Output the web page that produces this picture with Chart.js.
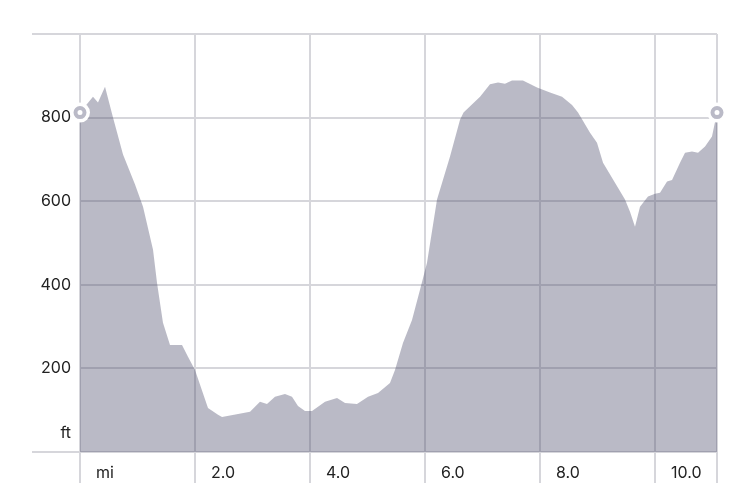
<!DOCTYPE html>
<html>
<head>
<meta charset="utf-8">
<style>
  html, body { margin: 0; padding: 0; background: #ffffff; }
  #wrap { width: 750px; height: 499px; }
</style>
<script src="https://cdn.jsdelivr.net/npm/chart.js@4/dist/chart.umd.min.js"></script>
</head>
<body>
<div id="wrap"><canvas id="c" width="750" height="499"></canvas></div>
<script>
// Distance along route (miles)
const distance = [
  0.000, 0.226, 0.313, 0.435, 0.574, 0.748, 0.957, 1.096, 1.270, 1.339,
  1.443, 1.565, 1.774, 1.878, 2.000, 2.226, 2.400, 2.470, 2.957, 3.130,
  3.252, 3.391, 3.565, 3.687, 3.791, 3.913, 4.035, 4.261, 4.470, 4.609,
  4.817, 5.009, 5.183, 5.391, 5.478, 5.617, 5.774, 5.913, 6.035, 6.209,
  6.435, 6.609, 6.670, 6.957, 7.130, 7.270, 7.391, 7.513, 7.704, 7.948,
  8.174, 8.383, 8.557, 8.661, 8.870, 8.991, 9.096, 9.304, 9.478, 9.565,
  9.652, 9.739, 9.878, 10.000, 10.087, 10.209, 10.296, 10.435, 10.522, 10.643,
  10.748, 10.870, 10.991, 11.078
];
// Elevation (feet)
const elevation = [
  812, 850, 836, 874, 800, 712, 640, 587, 484, 405,
  309, 256, 256, 228, 196, 105, 89, 84, 96, 120,
  115, 132, 139, 132, 110, 98, 98, 120, 129, 117,
  115, 132, 141, 165, 196, 261, 316, 388, 453, 604,
  707, 795, 812, 850, 880, 884, 881, 889, 889, 872,
  860, 850, 830, 812, 764, 740, 692, 644, 604, 575,
  539, 587, 611, 618, 620, 647, 651, 692, 716, 719,
  716, 731, 755, 812
];
// Axis ticks
const xTickValues = [0, 2, 4, 6, 8, 10, 11.078];
const xTickLabels = ['mi', '2.0', '4.0', '6.0', '8.0', '10.0', ''];
const yTickValues = [0, 200, 400, 600, 800, 1000];
const yTickLabels = [['ft', '', ''], '200', '400', '600', '800', ''];

const pts = distance.map((d, i) => ({ x: d, y: elevation[i] }));
const last = distance.length - 1;
const endPts = [
  { x: distance[0], y: elevation[0] },
  { x: distance[last], y: elevation[last] }
];

const gridColor = 'rgb(214,214,219)';
const textColor = '#222222';
const fontSpec = { family: 'Inter, "Open Sans", sans-serif', size: 16 };

new Chart(document.getElementById('c'), {
  type: 'line',
  data: {
    datasets: [
      {
        label: 'ends-ring',
        data: endPts,
        order: 0,
        showLine: false,
        pointRadius: 4.5,
        pointBorderWidth: 4,
        pointBorderColor: 'rgb(186,186,199)',
        pointBackgroundColor: '#ffffff',
        pointHoverRadius: 4.5,
        clip: false
      },
      {
        label: 'ends-halo',
        data: endPts,
        order: 1,
        showLine: false,
        pointRadius: 10,
        pointBorderWidth: 0,
        pointBorderColor: '#ffffff',
        pointBackgroundColor: '#ffffff',
        pointHoverRadius: 10,
        clip: false
      },
      {
        label: 'Elevation',
        data: pts,
        order: 2,
        fill: 'origin',
        backgroundColor: 'rgba(63,63,97,0.36)',
        borderWidth: 0,
        borderColor: 'rgba(0,0,0,0)',
        pointRadius: 0,
        tension: 0
      }
    ]
  },
  options: {
    responsive: false,
    animation: false,
    devicePixelRatio: 1,
    events: [],
    layout: { padding: { left: 32, right: 33, top: 34, bottom: 0 } },
    plugins: {
      legend: { display: false },
      tooltip: { enabled: false }
    },
    scales: {
      x: {
        type: 'linear',
        min: xTickValues[0],
        max: xTickValues[xTickValues.length - 1],
        afterBuildTicks: (scale) => { scale.ticks = xTickValues.map(v => ({ value: v })); },
        afterFit: (scale) => { scale.height = 47; },
        border: { display: false },
        grid: {
          color: gridColor,
          lineWidth: 2,
          tickLength: 31,
          tickColor: gridColor,
          tickWidth: 2
        },
        ticks: {
          autoSkip: false,
          maxRotation: 0,
          minRotation: 0,
          align: 'start',
          labelOffset: 16,
          padding: -19,
          color: textColor,
          font: fontSpec,
          callback: (value, index) => xTickLabels[index]
        }
      },
      y: {
        type: 'linear',
        min: yTickValues[0],
        max: yTickValues[yTickValues.length - 1],
        afterBuildTicks: (scale) => { scale.ticks = yTickValues.map(v => ({ value: v })); },
        afterFit: (scale) => { scale.width = 48; },
        border: { display: false },
        grid: {
          color: gridColor,
          lineWidth: 2,
          tickLength: 48,
          tickWidth: 2,
          tickColor: (ctx) => (ctx.index === 0 || ctx.index === yTickValues.length - 1) ? gridColor : 'rgba(0,0,0,0)'
        },
        ticks: {
          autoSkip: false,
          padding: -39,
          color: textColor,
          font: fontSpec,
          callback: (value, index) => yTickLabels[index]
        }
      }
    }
  }
});
</script>
</body>
</html>
